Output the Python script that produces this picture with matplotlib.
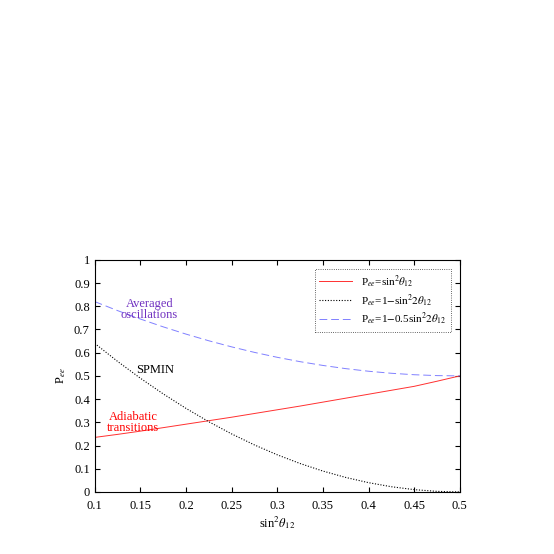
import matplotlib
matplotlib.use("Agg")
import matplotlib.pyplot as plt

plt.rcParams['font.family'] = ['Liberation Serif', 'DejaVu Serif']
plt.rcParams['mathtext.fontset'] = 'stix'

s = [0.1,0.125,0.15,0.175,0.2,0.225,0.25,0.275,0.3,0.325,0.35,0.375,0.4,0.425,0.45,0.475,0.5]
p_adiabatic = [0.235,0.248,0.262,0.277,0.292,0.307,0.322,0.338,0.354,0.37,0.387,0.404,0.421,0.438,0.455,0.477,0.5]
p_spmin = [0.64,0.5625,0.49,0.4225,0.36,0.3025,0.25,0.2025,0.16,0.1225,0.09,0.0625,0.04,0.0225,0.01,0.0025,0.0]
p_avg = [0.82,0.78125,0.745,0.71125,0.68,0.65125,0.625,0.60125,0.58,0.56125,0.545,0.53125,0.52,0.51125,0.505,0.50125,0.5]

fig = plt.figure(figsize=(5.54,5.54), dpi=100)
ax = fig.add_axes([0.171,0.112,0.659,0.419])
ax.plot(s, p_adiabatic, color='#ff3030', lw=0.7, label=r'P$_{ee}$=sin$^2\theta_{12}$')
ax.plot(s, p_spmin, color='black', lw=0.8, ls=(0,(1,1.5)), label=r'P$_{ee}$=1$-$sin$^22\theta_{12}$')
ax.plot(s, p_avg, color='#8080ff', lw=0.7, ls=(0,(8,4)), label=r'P$_{ee}$=1$-$0.5sin$^22\theta_{12}$')
ax.set_xlim(0.1,0.5); ax.set_ylim(0,1)
ax.set_xticks([0.1,0.15,0.2,0.25,0.3,0.35,0.4,0.45,0.5])
ax.set_xticklabels(['0.1','0.15','0.2','0.25','0.3','0.35','0.4','0.45','0.5'])
ax.set_yticks([i/10 for i in range(11)])
ax.set_yticklabels(['0','0.1','0.2','0.3','0.4','0.5','0.6','0.7','0.8','0.9','1'])
ax.tick_params(direction='in', top=True, right=True, labelsize=9)
ax.tick_params(axis='x', pad=6)
ax.set_xlabel(r'sin$^2\theta_{12}$', fontsize=9, labelpad=1)
ax.set_ylabel(r'P$_{ee}$', fontsize=9)
ax.text(0.16,0.785,'Averaged\noscillations', color='#7030c0', fontsize=9, ha='center', va='center', linespacing=0.9)
ax.text(0.166,0.525,'SPMIN', color='black', fontsize=9, ha='center', va='center')
ax.text(0.142,0.30,'Adiabatic\ntransitions', color='red', fontsize=9, ha='center', va='center', linespacing=0.9)
leg = ax.legend(loc='upper right', fontsize=8, frameon=True, fancybox=False, edgecolor='black',
                handlelength=3, borderaxespad=0.8, labelspacing=0.2)
leg.get_frame().set_linewidth(0.6)
leg.get_frame().set_linestyle(':')
fig.savefig('out.png', dpi=100)
